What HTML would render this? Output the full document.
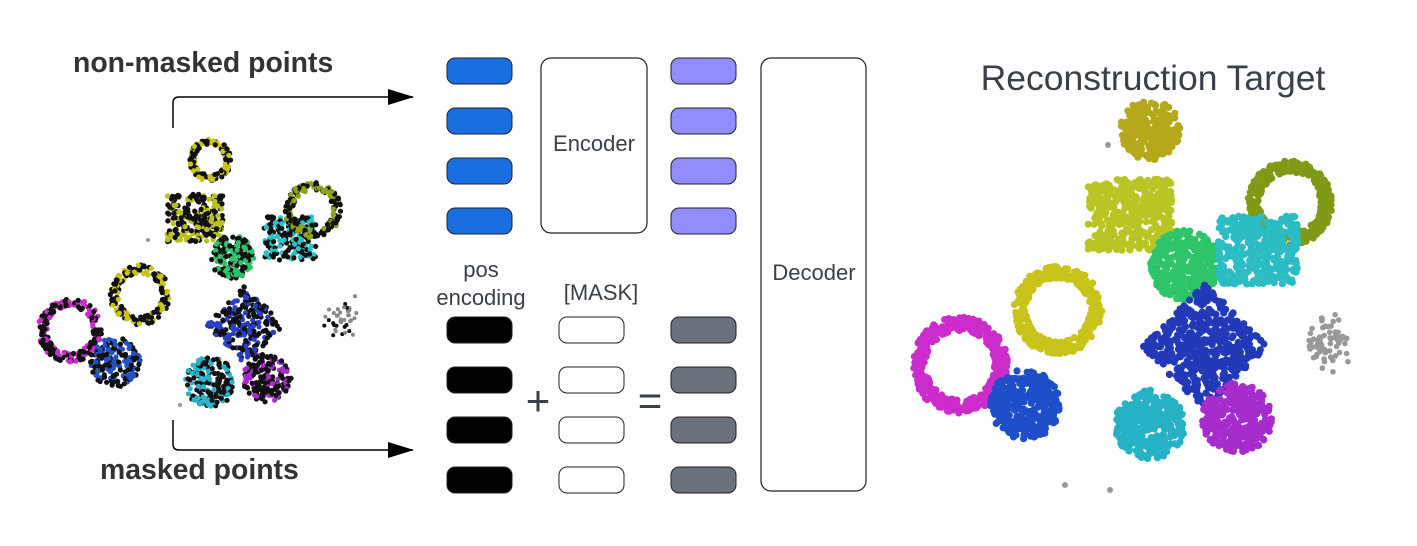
<!DOCTYPE html>
<html><head><meta charset="utf-8"><style>
body{margin:0;background:#fff;width:1417px;height:541px;overflow:hidden;font-family:"Liberation Sans",sans-serif}
</style></head><body>
<svg id="s" width="1417" height="541" viewBox="0 0 1417 541" xmlns="http://www.w3.org/2000/svg">
<defs><marker id="ah" markerWidth="26" markerHeight="16" refX="25" refY="8" orient="auto" markerUnits="userSpaceOnUse"><path d="M0,0 L26,8 L0,16 z" fill="#000"/></marker></defs>
<g id="pts"></g>
<text x="73" y="72" font-size="28.4" font-weight="bold" fill="#333">non-masked points</text>
<text x="100" y="479" font-size="28.4" font-weight="bold" fill="#333">masked points</text>
<path d="M173,128 V103 Q173,97 179,97 H413" fill="none" stroke="#000" stroke-width="1.5" marker-end="url(#ah)"/>
<path d="M173,420 V444 Q173,450 179,450 H413" fill="none" stroke="#000" stroke-width="1.5" marker-end="url(#ah)"/>
<g fill="#1a6fe0" stroke="#222" stroke-width="1">
<rect x="447" y="58" width="65" height="26" rx="8"/><rect x="447" y="108" width="65" height="26" rx="8"/><rect x="447" y="158" width="65" height="26" rx="8"/><rect x="447" y="208" width="65" height="26" rx="8"/></g>
<g fill="#918dff" stroke="#222" stroke-width="1">
<rect x="671" y="58" width="65" height="26" rx="8"/><rect x="671" y="108" width="65" height="26" rx="8"/><rect x="671" y="158" width="65" height="26" rx="8"/><rect x="671" y="208" width="65" height="26" rx="8"/></g>
<g fill="#000" stroke="#222" stroke-width="1">
<rect x="447" y="317" width="65" height="26" rx="8"/><rect x="447" y="367" width="65" height="26" rx="8"/><rect x="447" y="417" width="65" height="26" rx="8"/><rect x="447" y="467" width="65" height="26" rx="8"/></g>
<g fill="#fff" stroke="#222" stroke-width="1">
<rect x="559" y="317" width="65" height="26" rx="8"/><rect x="559" y="367" width="65" height="26" rx="8"/><rect x="559" y="417" width="65" height="26" rx="8"/><rect x="559" y="467" width="65" height="26" rx="8"/></g>
<g fill="#6b717b" stroke="#222" stroke-width="1">
<rect x="671" y="317" width="65" height="26" rx="8"/><rect x="671" y="367" width="65" height="26" rx="8"/><rect x="671" y="417" width="65" height="26" rx="8"/><rect x="671" y="467" width="65" height="26" rx="8"/></g>
<rect x="541" y="58" width="106" height="175" rx="10" fill="#fff" stroke="#222" stroke-width="1.2"/>
<rect x="761" y="58" width="105" height="433" rx="10" fill="#fff" stroke="#222" stroke-width="1.2"/>
<g fill="#3a3f48" font-size="22" text-anchor="middle">
<text x="594" y="151">Encoder</text>
<text x="814" y="280">Decoder</text>
<text x="481" y="277">pos</text>
<text x="481" y="305">encoding</text>
<text x="601" y="300">[MASK]</text>
<text x="538" y="415" font-size="42">+</text>
<text x="650" y="415" font-size="42">=</text>
<text x="1153" y="90" font-size="35.5">Reconstruction Target</text>
</g>
</svg>
<script>
var seed=7;function r(){seed=(seed*16807)%2147483647;return (seed-1)/2147483646;}
function g(){return (r()+r()+r()-1.5)/1.5;}
var out=[];
function shape(t,cx,cy,R,col,n,blk,pr){
 for(var i=0;i<n;i++){var x,y;
  if(t=='ring'){var a=r()*6.283,rr=R*(0.72+0.28*r());x=cx+rr*Math.cos(a);y=cy+rr*Math.sin(a);}
  else if(t=='disk'){var a=r()*6.283,rr=R*Math.sqrt(r());x=cx+rr*Math.cos(a);y=cy+rr*Math.sin(a);}
  else if(t=='sq'){x=cx+(r()*2-1)*R;y=cy+(r()*2-1)*R*0.85;}
  else if(t=='dia'){var u=r()*2-1,v=r()*2-1;x=cx+(u-v)*R*0.7;y=cy+(u+v)*R*0.7;}
  else {x=cx+g()*R;y=cy+g()*R*1.3;}
  var c=r()<blk?'#111':col;
  out.push('<circle cx="'+x.toFixed(1)+'" cy="'+y.toFixed(1)+'" r="'+pr+'" fill="'+c+'"/>');}
}
var L=[['ring',210,160,21,'#c9c41a',140],['sq',195,218,28,'#b9c21a',260],['disk',232,257,22,'#2ec46a',170],['sq',290,238,26,'#2bc3c9',200],['ring',313,210,28,'#8ea21a',200],['ring',140,295,30,'#c9c41a',180],['ring',70,330,32,'#cc2ccc',220],['disk',115,362,25,'#2452c4',170],['dia',245,325,28,'#2b3fc4',230],['disk',210,382,25,'#2bb3c9',180],['disk',267,378,24,'#a52ccc',170]];
L.forEach(function(s){shape(s[0],s[1],s[2],s[3],s[4],s[5],0.6,2.6);});
shape('cl',342,318,22,'#888',40,0.4,2);
var R=[['disk',1150,130,30,'#b5a81a',260],['sq',1130,215,42,'#b9c525',420],['ring',1290,203,42,'#7e9a16',360],['disk',1185,265,35,'#2ec46a',330],['sq',1258,250,40,'#2bbcc4',400],['ring',1058,310,44,'#c9c41a',340],['ring',960,365,48,'#cc2ccc',420],['disk',1025,405,35,'#1f4fc8',330],['dia',1205,347,45,'#2239b8',480],['disk',1150,425,35,'#25b2c4',320],['disk',1237,418,35,'#a62ccc',320]];
R.forEach(function(s){shape(s[0],s[1],s[2],s[3],s[4],s[5],0,3.6);});
shape('cl',1328,340,28,'#999',70,0,2.8);
out.push('<circle cx="1108" cy="145" r="3" fill="#999"/><circle cx="1065" cy="485" r="3" fill="#999"/><circle cx="1110" cy="490" r="3" fill="#999"/><circle cx="180" cy="405" r="2" fill="#999"/><circle cx="148" cy="240" r="2" fill="#999"/>');
document.getElementById('pts').innerHTML=out.join('');
</script>
</body></html>
